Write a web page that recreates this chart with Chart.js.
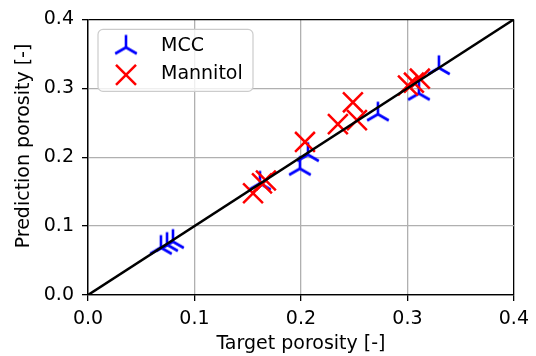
<!DOCTYPE html>
<html>
<head>
<meta charset="utf-8">
<script src="https://cdn.jsdelivr.net/npm/chart.js@4.4.1/dist/chart.umd.min.js"></script>
<style>
  html, body { margin: 0; padding: 0; background: #fff; }
</style>
</head>
<body>
<canvas id="chart" width="536" height="356"></canvas>
<script>
// values
const seriesNames = ['MCC', 'Mannitol'];
const mccTarget = [0.0685, 0.0742, 0.0798, 0.1615, 0.199, 0.2066, 0.2723, 0.3108, 0.3296];
const mccPred   = [0.0688, 0.0731, 0.0774, 0.162, 0.1835, 0.2036, 0.2624, 0.2925, 0.3297];
const manTarget = [0.155, 0.1634, 0.1671, 0.2038, 0.2347, 0.2526, 0.2488, 0.3005, 0.3061, 0.3117];
const manPred   = [0.1477, 0.162, 0.1663, 0.2222, 0.248, 0.2538, 0.2796, 0.304, 0.3082, 0.314];
const axisTicks = [0, 0.1, 0.2, 0.3, 0.4];
const identity  = [0, 0.4];
const yTitle = 'Prediction porosity [-]';

const FONT = 19;
Chart.defaults.font.family = 'DejaVu Sans';
Chart.defaults.font.size = FONT;
Chart.defaults.color = '#000';

const toPoints = (xs, ys) => xs.map((x, i) => ({ x: x, y: ys[i] }));

// matplotlib-like "tri_up" marker
function triMarker(arm, lw, color) {
  const s = Math.ceil(arm * 2 + lw * 2) + 1;
  const c = document.createElement('canvas');
  c.width = s; c.height = s;
  const g = c.getContext('2d');
  const m = s / 2;
  g.strokeStyle = color;
  g.lineWidth = lw;
  g.beginPath();
  g.moveTo(m, m); g.lineTo(m, m - arm);
  g.moveTo(m, m); g.lineTo(m - arm * 0.866, m + arm * 0.5);
  g.moveTo(m, m); g.lineTo(m + arm * 0.866, m + arm * 0.5);
  g.stroke();
  return c;
}
const tri = triMarker(12.5, 2.6, '#0000ff');

// legend inside the axes + y title (matplotlib puts it a bit above centre here)
const extras = {
  id: 'extras',
  afterDraw(chart) {
    const ctx = chart.ctx;
    const a = chart.chartArea;
    const x = a.left + 10, y = a.top + 10, w = 155, h = 62, r = 5;
    ctx.save();
    ctx.beginPath();
    ctx.roundRect(x, y, w, h, r);
    ctx.fillStyle = 'rgba(255,255,255,0.8)';
    ctx.fill();
    ctx.strokeStyle = '#cccccc';
    ctx.lineWidth = 1.2;
    ctx.stroke();

    // MCC
    ctx.drawImage(tri, x + 28 - tri.width / 2, y + 18 - tri.height / 2);
    // Mannitol
    const cx = x + 28, cy = y + 45.5, d = 10;
    ctx.strokeStyle = '#ff0000';
    ctx.lineWidth = 2.5;
    ctx.beginPath();
    ctx.moveTo(cx - d, cy - d); ctx.lineTo(cx + d, cy + d);
    ctx.moveTo(cx - d, cy + d); ctx.lineTo(cx + d, cy - d);
    ctx.stroke();

    ctx.fillStyle = '#000';
    ctx.font = FONT + 'px "DejaVu Sans"';
    ctx.textBaseline = 'middle';
    ctx.textAlign = 'left';
    ctx.fillText(seriesNames[0], x + 63, y + 16.5);
    ctx.fillText(seriesNames[1], x + 63, y + 45);

    // y axis title
    ctx.translate(24, 146);
    ctx.rotate(-Math.PI / 2);
    ctx.textAlign = 'center';
    ctx.fillText(yTitle, 0, 0);
    ctx.restore();
  }
};

const edgeColor = (c) => (c.index === 0 || c.index === axisTicks.length - 1) ? '#000' : '#b0b0b0';

const data = {
  datasets: [{
    label: 'identity',
    data: toPoints(identity, identity),
    showLine: true,
    borderColor: '#000',
    borderWidth: 2.5,
    pointRadius: 0,
    order: 0
  }, {
    label: seriesNames[0],
    data: toPoints(mccTarget, mccPred),
    pointStyle: tri,
    pointRadius: 12,
    order: 2
  }, {
    label: seriesNames[1],
    data: toPoints(manTarget, manPred),
    pointStyle: 'crossRot',
    pointRadius: 14,
    pointBorderColor: '#ff0000',
    pointBorderWidth: 2.5,
    order: 1
  }]
};

const axis = (pad) => ({
  type: 'linear',
  min: 0,
  max: 0.4,
  afterBuildTicks: s => { s.ticks = axisTicks.map(v => ({ value: v })); },
  ticks: { callback: v => v.toFixed(1), padding: pad, autoSkip: false, maxRotation: 0 },
  grid: { color: edgeColor, lineWidth: 1.3, tickLength: 6, tickColor: '#000', tickWidth: 1.3 },
  border: { color: '#000', width: 1.3 }
});

const xAxis = axis(7);
xAxis.title = { display: true, text: 'Target porosity [-]', padding: { top: 4, bottom: 1 } };
xAxis.afterFit = s => { s.height = 61; };
const yAxis = axis(8);
yAxis.afterFit = s => { s.width = 88; };

const config = {
  type: 'scatter',
  data: data,
  options: {
    responsive: false,
    animation: false,
    devicePixelRatio: 1,
    layout: { padding: { left: 0, right: 22, top: 16, bottom: 0 } },
    plugins: { legend: { display: false }, tooltip: { enabled: false } },
    scales: { x: xAxis, y: yAxis }
  },
  plugins: [extras]
};

new Chart(document.getElementById('chart'), config);
</script>
</body>
</html>
